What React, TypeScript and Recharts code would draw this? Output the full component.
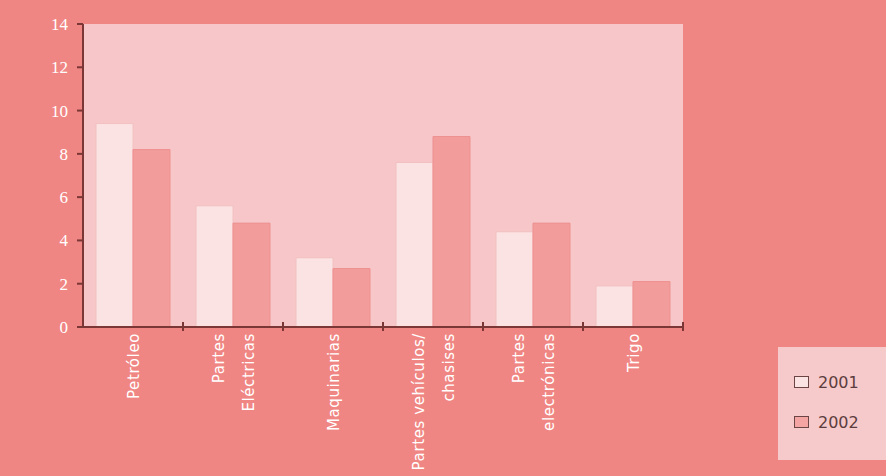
import React from "react"
import { BarChart, Bar, XAxis, YAxis, CartesianGrid, Legend } from "recharts"

const categories = [
  "Petróleo",
  "Partes\nEléctricas",
  "Maquinarias",
  "Partes vehículos/\nchasises",
  "Partes\nelectrónicas",
  "Trigo",
]
const values2001 = [9.4, 5.6, 3.2, 7.6, 4.4, 1.9]
const values2002 = [8.2, 4.8, 2.7, 8.8, 4.8, 2.1]
const yTicks = [0, 2, 4, 6, 8, 10, 12, 14]

const data = categories.map((name, i) => ({
  name,
  y2001: values2001[i],
  y2002: values2002[i],
}))

const AXIS = "#7b3636"

function CategoryTick({ x, y, payload }: any) {
  const lines = String(payload.value).split("\n")
  const half = payload.offset ?? 50
  return (
    <g>
      <line x1={x + half} x2={x + half} y1={y - 5} y2={y + 4} stroke={AXIS} strokeWidth={2} />
      <text
        transform={`translate(${x + 1},${y + 6}) rotate(-90)`}
        textAnchor="end"
        dominantBaseline="central"
        fill="#fff"
        fontSize={15}
        fontFamily="DejaVu Sans"
        letterSpacing={0.6}
      >
        {lines.map((l, i) => (
          <tspan key={i} x={0} y={(i - (lines.length - 1) / 2) * 30}>
            {l}
          </tspan>
        ))}
      </text>
    </g>
  )
}

function LegendBox() {
  const items = [
    { label: "2001", fill: "#fbe3e4" },
    { label: "2002", fill: "#f3a4a3" },
  ]
  return (
    <div style={{ width: 108, height: 113, background: "#f6c9cb", paddingTop: 15, boxSizing: "border-box" }}>
      {items.map((it) => (
        <div key={it.label} style={{ display: "flex", alignItems: "center", height: 40, paddingLeft: 16 }}>
          <span style={{ width: 13, height: 10, border: "1px solid #6b4444", background: it.fill, marginRight: 9 }} />
          <span style={{ fontFamily: "DejaVu Sans", fontSize: 16, color: "#5c3d3d" }}>{it.label}</span>
        </div>
      ))}
    </div>
  )
}

export default function App() {
  return (
    <div style={{ position: "absolute", left: 0, top: 0, width: 886, height: 476, background: "#f08683", overflow: "hidden" }}>
      <BarChart
        width={886}
        height={476}
        data={data}
        margin={{ top: 24, right: 203, bottom: 0, left: 0 }}
        barCategoryGap="13%"
        barGap={0}
      >
        <CartesianGrid fill="#f6c6c8" horizontal={false} vertical={false} stroke="none" />
        <XAxis
          dataKey="name"
          height={149}
          interval={0}
          tickLine={false}
          tickSize={0}
          tickMargin={0}
          axisLine={{ stroke: AXIS, strokeWidth: 2 }}
          tick={<CategoryTick />}
        />
        <YAxis
          width={83}
          domain={[0, 14]}
          ticks={yTicks}
          interval={0}
          axisLine={{ stroke: AXIS, strokeWidth: 2 }}
          tickLine={{ stroke: AXIS, strokeWidth: 2 }}
          tickSize={6}
          tickMargin={9}
          tick={{ fill: "#fff", fontSize: 17, fontFamily: "Liberation Serif" }}
        />
        <Legend
          layout="vertical"
          align="center"
          verticalAlign="middle"
          content={<LegendBox />}
          wrapperStyle={{ position: "absolute", left: 778, top: 347, width: 108, height: 113 }}
        />
        <Bar dataKey="y2001" name="2001" fill="#fbe3e4" stroke="#f2c0c0" isAnimationActive={false} />
        <Bar dataKey="y2002" name="2002" fill="#f29d9b" stroke="#ee9190" isAnimationActive={false} />
      </BarChart>
    </div>
  )
}
